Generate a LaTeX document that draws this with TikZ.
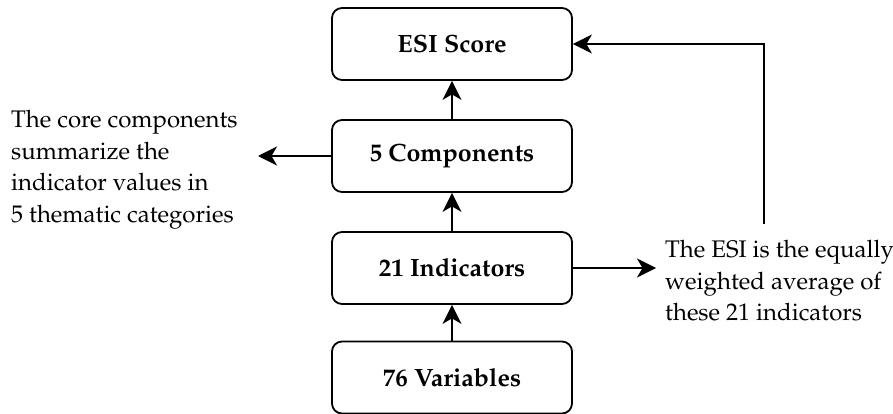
\documentclass[tikz,border=0pt]{standalone}
\usepackage[T1]{fontenc}
\usepackage{mathpazo}
\usetikzlibrary{arrows.meta}
\tikzset{
  box/.style={draw, line width=1.8pt, rounded corners=10pt, minimum width=240pt, minimum height=72pt, inner sep=0pt, font=\fontsize{25}{30}\selectfont\bfseries},
  arr/.style={line width=1.8pt, -{Stealth[length=19pt, width=19pt, inset=5.5pt]}},
  note/.style={align=left, inner sep=0pt, font=\fontsize{24}{31.7}\selectfont}
}
\begin{document}
\begin{tikzpicture}[x=1pt, y=-1pt]
\useasboundingbox (0,0) rectangle (893,414);
\node[box] (esi) at (452,44) {ESI Score};
\node[box] (comp) at (452,156) {5 Components};
\node[box] (ind) at (452,268) {21 Indicators};
\node[box] (var) at (452,377.5) {76 Variables};
\begin{scope}
\clip (0,90) rectangle (300,228);
\node[note, anchor=north west] (ltext) at (11,110) {The core components\\summarize the\\indicator values in\\5 thematic categories};
\end{scope}
\node[note, anchor=north west] (rtext) at (665,240) {The ESI is the equally\\weighted average of\\these 21 indicators};
\coordinate (ltip) at (258,156);
\coordinate (rtip) at (656,268);
\coordinate (up) at (764,224);
\draw[arr] (var.north) -- (ind.south);
\draw[arr] (ind.north) -- (comp.south);
\draw[arr] (comp.north) -- (esi.south);
\draw[arr] (comp.west) -- (ltip);
\draw[arr] (ind.east) -- (rtip);
\draw[arr] (up) |- (esi.east);
\end{tikzpicture}
\end{document}
